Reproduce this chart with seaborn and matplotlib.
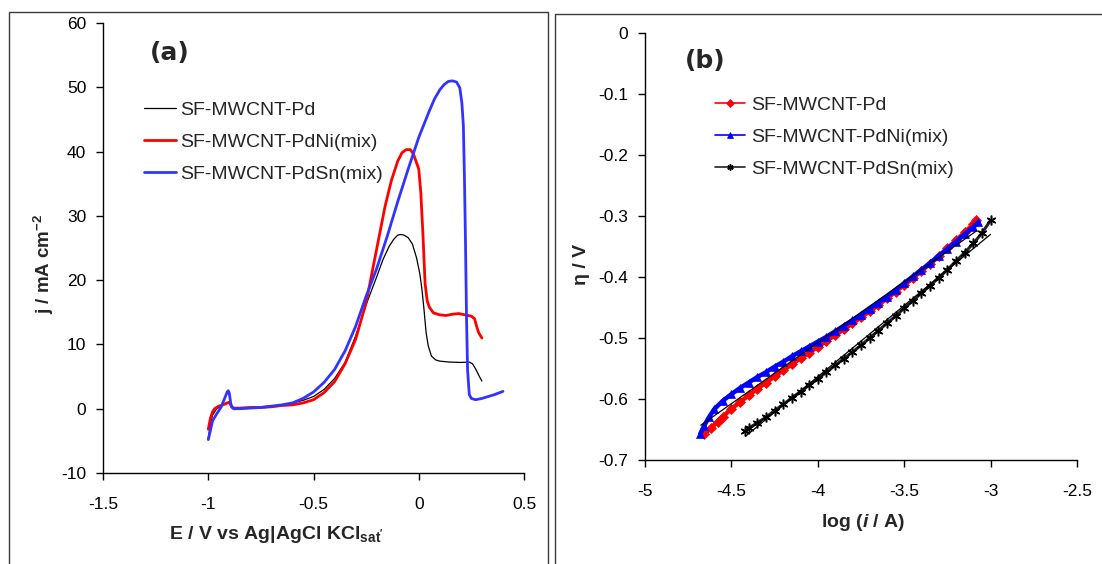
import matplotlib
matplotlib.use("Agg")
import matplotlib.pyplot as plt
import seaborn as sns
from matplotlib.patches import Rectangle

# ---------------- (a) linear sweep voltammograms ----------------
E_pd = [-1.00, -0.99, -0.98, -0.96, -0.94, -0.92, -0.905, -0.89, -0.88, -0.85, -0.80, -0.75,
        -0.70, -0.65, -0.60, -0.55, -0.50, -0.45, -0.40, -0.35, -0.30, -0.25, -0.20, -0.17,
        -0.14, -0.12, -0.10, -0.085, -0.07, -0.05, -0.03, -0.01, 0.005, 0.015, 0.025, 0.035,
        0.045, 0.06, 0.08, 0.10, 0.15, 0.20, 0.24, 0.255, 0.27, 0.285, 0.30]
j_pd = [-4.5, -2.5, -1.0, 0.0, 0.4, 0.8, 1.0, 0.5, 0.1, 0.1, 0.2, 0.3,
        0.4, 0.6, 0.9, 1.3, 1.9, 3.0, 4.7, 7.2, 11.3, 16.2, 20.5, 23.2,
        25.3, 26.3, 27.0, 27.1, 27.0, 26.6, 25.6, 23.4, 21.0, 18.6, 15.4, 11.8,
        9.8, 8.2, 7.6, 7.4, 7.25, 7.2, 7.25, 7.0, 6.2, 5.2, 4.3]

E_ni = [-1.00, -0.99, -0.98, -0.97, -0.95, -0.93, -0.91, -0.90, -0.89, -0.88, -0.85, -0.80,
        -0.75, -0.70, -0.65, -0.60, -0.55, -0.50, -0.45, -0.40, -0.35, -0.30, -0.25, -0.22,
        -0.19, -0.16, -0.13, -0.10, -0.08, -0.06, -0.04, -0.025, -0.01, 0.00, 0.01, 0.02,
        0.03, 0.04, 0.05, 0.07, 0.10, 0.13, 0.16, 0.19, 0.22, 0.25, 0.265, 0.275, 0.285, 0.30]
j_ni = [-3.2, -1.5, -0.5, 0.0, 0.4, 0.6, 0.9, 1.0, 0.4, 0.1, 0.1, 0.2,
        0.2, 0.3, 0.5, 0.6, 0.9, 1.4, 2.5, 4.2, 7.0, 10.8, 16.5, 21.5,
        26.5, 31.5, 35.5, 38.5, 39.8, 40.3, 40.3, 39.6, 38.2, 37.3, 33.5, 27.0,
        19.5, 16.8, 15.8, 14.9, 14.6, 14.5, 14.7, 14.8, 14.6, 14.4, 14.0, 12.8, 11.8, 11.0]

E_sn = [-1.00, -0.99, -0.98, -0.96, -0.94, -0.93, -0.92, -0.91, -0.905, -0.90, -0.895, -0.89,
        -0.88, -0.85, -0.80, -0.75, -0.70, -0.65, -0.60, -0.55, -0.50, -0.45, -0.40, -0.35,
        -0.30, -0.25, -0.20, -0.15, -0.10, -0.05, 0.00, 0.05, 0.075, 0.10, 0.12, 0.14, 0.16, 0.18,
        0.195, 0.205, 0.212, 0.217, 0.222, 0.227, 0.232, 0.24, 0.25, 0.27, 0.30, 0.33, 0.36, 0.40]
j_sn = [-4.8, -3.4, -1.9, -0.8, 0.2, 1.0, 1.8, 2.6, 2.8, 2.4, 1.2, 0.3,
        0.0, 0.0, 0.1, 0.2, 0.4, 0.6, 0.9, 1.6, 2.6, 4.1, 6.1, 9.0,
        12.8, 17.5, 21.8, 26.8, 32.2, 37.3, 42.2, 46.3, 48.2, 49.6, 50.4, 50.9, 51.0, 50.8,
        49.9, 47.5, 44.0, 36.0, 26.0, 14.0, 6.0, 2.2, 1.6, 1.4, 1.6, 1.9, 2.2, 2.7]

# ---------------- (b) Tafel plots ----------------
logi_pd = [-4.656, -4.62, -4.58, -4.55, -4.50, -4.45, -4.40, -4.35, -4.30, -4.25, -4.20, -4.15,
           -4.10, -4.05, -4.00, -3.95, -3.90, -3.85, -3.80, -3.75, -3.70, -3.65, -3.60, -3.55,
           -3.50, -3.45, -3.40, -3.35, -3.30, -3.25, -3.20, -3.15, -3.10, -3.085]
eta_pd = [-0.657, -0.648, -0.637, -0.629, -0.616, -0.605, -0.594, -0.583, -0.573, -0.563, -0.553, -0.543,
          -0.533, -0.524, -0.514, -0.505, -0.495, -0.486, -0.476, -0.466, -0.456, -0.446, -0.435, -0.424,
          -0.413, -0.402, -0.390, -0.378, -0.366, -0.353, -0.340, -0.327, -0.313, -0.307]

logi_ni = [-4.68, -4.66, -4.63, -4.60, -4.55, -4.50, -4.45, -4.40, -4.35, -4.30, -4.25, -4.20,
           -4.15, -4.10, -4.05, -4.00, -3.95, -3.90, -3.85, -3.80, -3.75, -3.70, -3.65, -3.60,
           -3.55, -3.50, -3.45, -3.40, -3.35, -3.30, -3.25, -3.20, -3.15, -3.10, -3.07]
eta_ni = [-0.657, -0.645, -0.630, -0.617, -0.603, -0.592, -0.582, -0.573, -0.564, -0.556, -0.547, -0.539,
          -0.530, -0.522, -0.514, -0.506, -0.498, -0.489, -0.480, -0.471, -0.462, -0.452, -0.442, -0.432,
          -0.421, -0.410, -0.399, -0.388, -0.377, -0.365, -0.354, -0.342, -0.330, -0.318, -0.310]

logi_sn = [-4.42, -4.40, -4.35, -4.30, -4.25, -4.20, -4.15, -4.10, -4.05, -4.00, -3.95, -3.90,
           -3.85, -3.80, -3.75, -3.70, -3.65, -3.60, -3.55, -3.50, -3.45, -3.40, -3.35, -3.30,
           -3.25, -3.20, -3.15, -3.10, -3.05, -3.00]
eta_sn = [-0.653, -0.648, -0.639, -0.630, -0.619, -0.609, -0.598, -0.588, -0.577, -0.567, -0.556, -0.545,
          -0.534, -0.523, -0.512, -0.500, -0.488, -0.476, -0.464, -0.451, -0.439, -0.426, -0.414, -0.401,
          -0.388, -0.374, -0.360, -0.345, -0.328, -0.307]

# linear Tafel fits (end points)
fit_pd_x = [-4.677, -3.08]
fit_pd_y = [-0.643, -0.324]
fit_sn_x = [-4.418, -3.00]
fit_sn_y = [-0.661, -0.330]

labels = ["SF-MWCNT-Pd", "SF-MWCNT-PdNi(mix)", "SF-MWCNT-PdSn(mix)"]
xticks_a = [-1.5, -1.0, -0.5, 0.0, 0.5]
xticklabels_a = ["-1.5", "-1", "-0.5", "0", "0.5"]
yticks_a = [-10, 0, 10, 20, 30, 40, 50, 60]
xticks_b = [-5, -4.5, -4, -3.5, -3, -2.5]
xticklabels_b = ["-5", "-4.5", "-4", "-3.5", "-3", "-2.5"]
yticks_b = [0, -0.1, -0.2, -0.3, -0.4, -0.5, -0.6, -0.7]
yticklabels_b = ["0", "-0.1", "-0.2", "-0.3", "-0.4", "-0.5", "-0.6", "-0.7"]

sns.set_style("ticks")
plt.rcParams.update({
    "font.family": ["Liberation Sans", "DejaVu Sans"],
    "axes.unicode_minus": False,
    "mathtext.fontset": "custom",
    "mathtext.rm": "Liberation Sans:weight=bold",
    "mathtext.bf": "Liberation Sans:weight=bold",
    "mathtext.it": "Liberation Sans:style=italic:weight=bold",
    "axes.linewidth": 1.0,
    "axes.edgecolor": "black",
})

fig = plt.figure(figsize=(11.02, 5.64), dpi=100)

# outer frames around each panel
fig.add_artist(Rectangle((9 / 1102, -0.05), 539 / 1102, 1.05 - 12 / 564,
                         transform=fig.transFigure, fill=False, ec="#3a3a3a", lw=1.0))
fig.add_artist(Rectangle((555 / 1102, -0.05), 0.6, 1.05 - 14 / 564,
                         transform=fig.transFigure, fill=False, ec="#3a3a3a", lw=1.0))

axa = fig.add_axes([0.0935, 0.1613, 0.382, 0.798])
axb = fig.add_axes([0.5853, 0.1844, 0.392, 0.757])

# ---- panel (a)
sns.lineplot(x=E_pd, y=j_pd, ax=axa, color="black", lw=0.9, sort=False, estimator=None, label=labels[0])
sns.lineplot(x=E_ni, y=j_ni, ax=axa, color="#FF0000", lw=2.0, sort=False, estimator=None, label=labels[1])
sns.lineplot(x=E_sn, y=j_sn, ax=axa, color="#3333FF", lw=2.0, sort=False, estimator=None, label=labels[2])
axa.set_xlim(-1.5, 0.5)
axa.set_ylim(-10, 60)
axa.set_xticks(xticks_a)
axa.set_xticklabels(xticklabels_a)
axa.set_yticks(yticks_a)
axa.set_xlabel(r"E / V vs Ag|AgCl KCl$_{\mathrm{sat'}}$", fontsize=14, fontweight="bold")
axa.set_ylabel(r"j / mA cm$^{\mathrm{-2}}$", fontsize=13.5, fontweight="bold")
axa.xaxis.set_label_coords(0.411, -0.113)
axa.yaxis.set_label_coords(-0.112, 0.464)
axa.legend(loc="upper left", bbox_to_anchor=(144 / 1102, 1 - 101 / 564), bbox_transform=fig.transFigure,
           frameon=False, fontsize=14, handlelength=1.65, handletextpad=0.2, labelspacing=0.75,
           borderpad=0, borderaxespad=0)

# ---- panel (b): densely marked data drawn as thick bands
sns.lineplot(x=logi_pd, y=eta_pd, ax=axb, color="#FF0000", lw=3.2, sort=False, estimator=None,
             marker="D", markersize=5, markeredgewidth=0.5, markeredgecolor="#FF0000", label=labels[0])
sns.lineplot(x=logi_ni, y=eta_ni, ax=axb, color="#0000FF", lw=3.2, sort=False, estimator=None,
             marker="^", markersize=6, markeredgewidth=0.5, markeredgecolor="#0000FF", label=labels[1])
sns.lineplot(x=logi_sn, y=eta_sn, ax=axb, color="#222222", lw=2.2, sort=False, estimator=None,
             marker=(6, 2, 0), markersize=7, markeredgewidth=1.1, markeredgecolor="black", label=labels[2])
sns.lineplot(x=fit_pd_x, y=fit_pd_y, ax=axb, color="black", lw=0.9, estimator=None)
sns.lineplot(x=fit_sn_x, y=fit_sn_y, ax=axb, color="black", lw=0.9, estimator=None)
axb.set_xlim(-5, -2.5)
axb.set_ylim(-0.7, 0)
axb.set_xticks(xticks_b)
axb.set_xticklabels(xticklabels_b)
axb.set_yticks(yticks_b)
axb.set_yticklabels(yticklabels_b)
axb.set_xlabel(r"log ($\mathit{i}$ / A)", fontsize=14, fontweight="bold")
axb.set_ylabel("η / V", fontsize=14, fontweight="bold")
axb.xaxis.set_label_coords(0.505, -0.122)
axb.yaxis.set_label_coords(-0.127, 0.459)
leg_b = axb.legend(loc="upper left", bbox_to_anchor=(715 / 1102, 1 - 96 / 564), bbox_transform=fig.transFigure,
                   frameon=False, fontsize=14, handlelength=1.55, handletextpad=0.3, labelspacing=0.75,
                   borderpad=0, borderaxespad=0)
for h in leg_b.legend_handles:
    h.set_linewidth(1.2)
    h.set_markersize(4.5)

for ax in (axa, axb):
    sns.despine(ax=ax)
    ax.tick_params(axis="both", direction="out", length=5, width=1, labelsize=12.5, colors="black")
    ax.tick_params(axis="x", pad=12)
    ax.tick_params(axis="y", pad=7)
    for s in ("left", "bottom"):
        ax.spines[s].set_color("black")

# panel tags
fig.text(170 / 1102, 1 - 53 / 564, "(a)", family="DejaVu Sans", fontweight="bold", fontsize=18,
         ha="center", va="center")
fig.text(705 / 1102, 1 - 61 / 564, "(b)", family="DejaVu Sans", fontweight="bold", fontsize=18,
         ha="center", va="center")

fig.savefig("out.png", dpi=100)
